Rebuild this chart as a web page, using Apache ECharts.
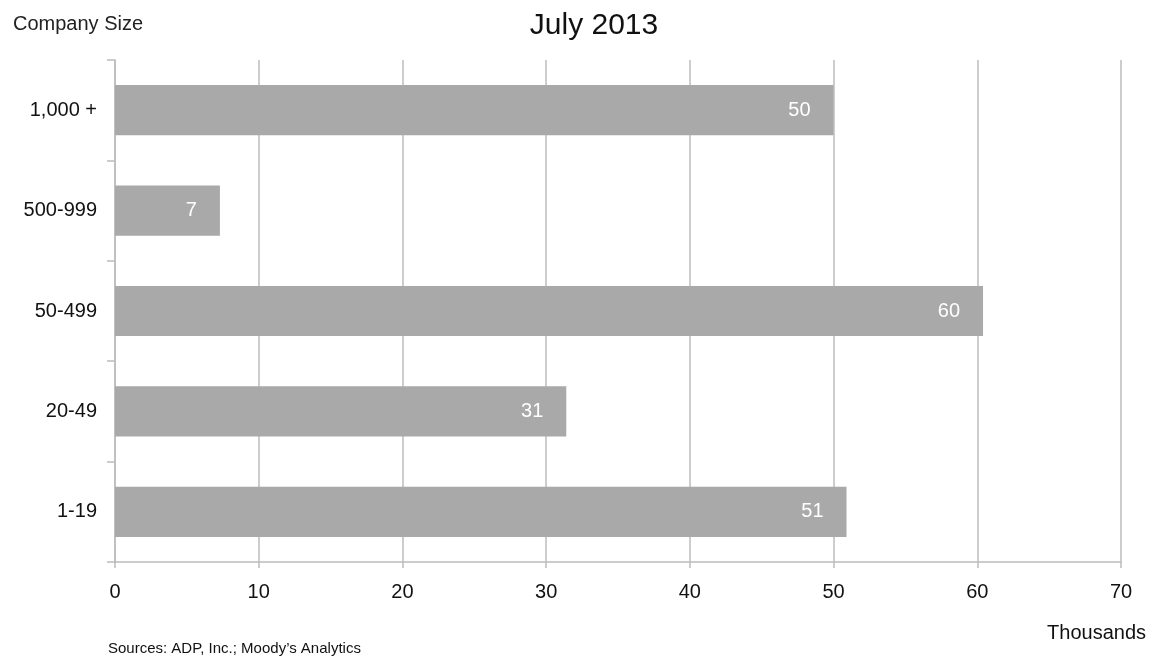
<!DOCTYPE html>
<html>
<head>
<meta charset="utf-8">
<script src="https://cdn.jsdelivr.net/npm/echarts@6/dist/echarts.min.js"></script>
<style>
  html, body { margin: 0; padding: 0; background: #fff; }
  #main { width: 1155px; height: 656px; }
</style>
</head>
<body>
<div id="main"></div>
<script>
// company size buckets, bottom to top
var categories = ['1-19', '20-49', '50-499', '500-999', '1,000 +'];
// jobs added, thousands
var jobs = [50.9, 31.4, 60.4, 7.3, 50.0];
var xTicks = [0, 10, 20, 30, 40, 50, 60, 70];

var chartDom = document.getElementById('main');
var myChart = echarts.init(chartDom);
var font = 'Liberation Sans, Arial, sans-serif';

var option = {
  animation: false,
  textStyle: { fontFamily: font },
  title: [
    { text: 'July 2013', left: 589, textAlign: 'center', top: 6,
      textStyle: { fontSize: 30, fontWeight: 'normal', color: '#111', fontFamily: font } },
    { text: 'Company Size', left: 8, top: 9,
      textStyle: { fontSize: 20, fontWeight: 'normal', color: '#222', fontFamily: font } },
    { text: 'Thousands', right: 4, top: 618,
      textStyle: { fontSize: 20, fontWeight: 'normal', color: '#111', fontFamily: font } },
    { text: "Sources: ADP, Inc.; Moody\u2019s Analytics", left: 103, top: 636,
      textStyle: { fontSize: 15, fontWeight: 'normal', color: '#111', fontFamily: font } }
  ],
  grid: { left: 115, right: 34, top: 60, bottom: 94, containLabel: false },
  xAxis: {
    type: 'value',
    min: xTicks[0],
    max: xTicks[xTicks.length - 1],
    interval: 10,
    axisLine: { show: true, lineStyle: { color: '#bcbcbc', width: 1.5 } },
    axisTick: { show: true, length: 6, lineStyle: { color: '#bcbcbc', width: 1.5 } },
    axisLabel: { color: '#111', fontSize: 20, margin: 20, fontFamily: font },
    splitLine: { show: true, lineStyle: { color: '#bcbcbc', width: 1.5 } }
  },
  yAxis: {
    type: 'category',
    data: categories,
    axisLine: { show: true, lineStyle: { color: '#bcbcbc', width: 1.5 } },
    axisTick: { show: true, length: 8, lineStyle: { color: '#bcbcbc', width: 1.5 } },
    axisLabel: { color: '#111', fontSize: 20, margin: 18, fontFamily: font }
  },
  series: [{
    type: 'bar',
    data: jobs,
    barWidth: '50%',
    itemStyle: { color: '#a9a9a9' },
    label: {
      show: true,
      position: 'insideRight',
      distance: 23,
      color: '#fff',
      fontSize: 20,
      fontFamily: font,
      formatter: function (p) { return Math.round(p.value); }
    }
  }]
};

myChart.setOption(option);
</script>
</body>
</html>
